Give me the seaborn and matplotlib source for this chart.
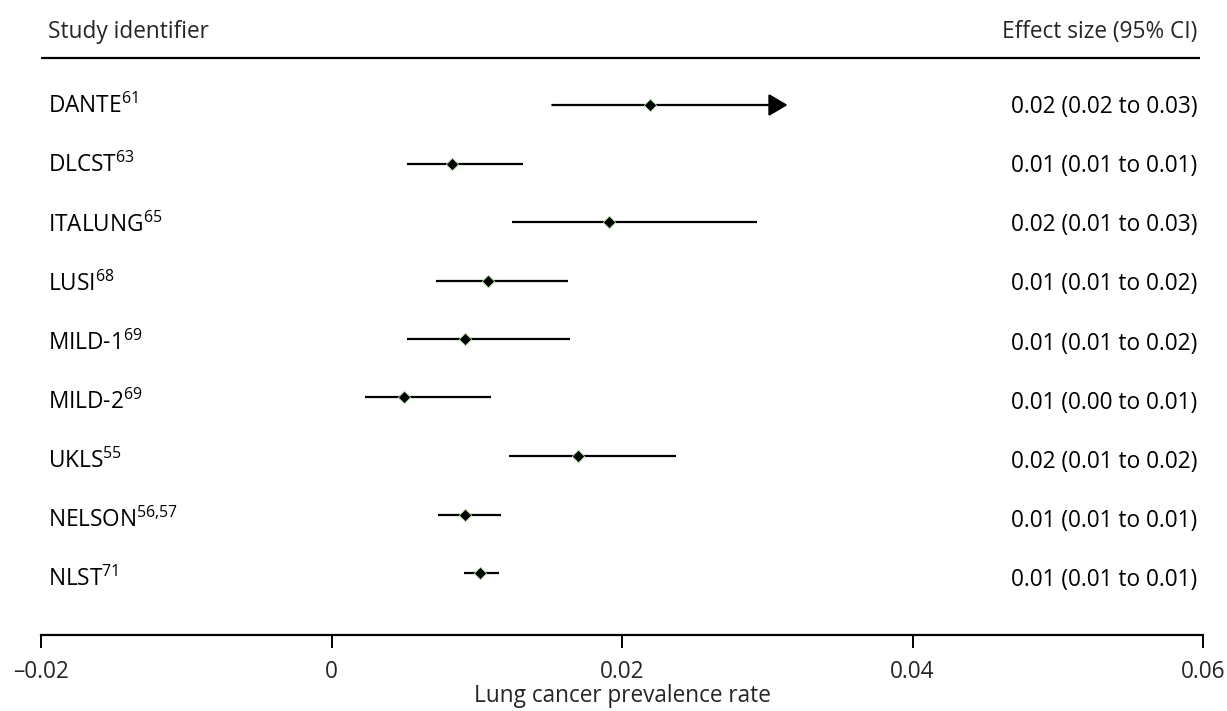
import matplotlib
matplotlib.use("Agg")
import matplotlib.pyplot as plt
import seaborn as sns
import pandas as pd
import numpy as np

studies = ["DANTE", "DLCST", "ITALUNG", "LUSI", "MILD-1", "MILD-2", "UKLS", "NELSON", "NLST"]
refs = ["61", "63", "65", "68", "69", "69", "55", "56{,}57", "71"]
estimate = [0.0219, 0.0083, 0.0191, 0.0108, 0.0092, 0.0050, 0.0170, 0.0092, 0.0102]
ci_low = [0.0152, 0.0052, 0.0124, 0.0072, 0.0052, 0.0023, 0.0122, 0.0073, 0.0091]
ci_high = [0.0314, 0.0132, 0.0293, 0.0163, 0.0164, 0.0110, 0.0237, 0.0117, 0.0115]
truncated = [True, False, False, False, False, False, False, False, False]
effect_text = ["0.02 (0.02 to 0.03)", "0.01 (0.01 to 0.01)", "0.02 (0.01 to 0.03)",
               "0.01 (0.01 to 0.02)", "0.01 (0.01 to 0.02)", "0.01 (0.00 to 0.01)",
               "0.02 (0.01 to 0.02)", "0.01 (0.01 to 0.01)", "0.01 (0.01 to 0.01)"]
xticks = [-0.02, 0, 0.02, 0.04, 0.06]
xticklabels = ["\u20130.02", "0", "0.02", "0.04", "0.06"]
xlabel = "Lung cancer prevalence rate"
header_left = "Study identifier"
header_right = "Effect size (95% CI)"

sns.set_theme(style="white")
plt.rcParams["font.family"] = ["Open Sans", "DejaVu Sans"]
plt.rcParams["mathtext.fontset"] = "custom"
plt.rcParams["mathtext.rm"] = "Open Sans"

df = pd.DataFrame({"study": studies, "est": estimate, "lo": ci_low, "hi": ci_high,
                   "row": np.arange(len(studies))})

W, H = 1227, 711
fig = plt.figure(figsize=(W / 100, H / 100), dpi=100)
left_px, right_px, axis_px = 41, 1203, 635
ax = fig.add_axes([left_px / W, (H - axis_px) / H, (right_px - left_px) / W, axis_px / H])

row0, row_step = 105, 58.5
y_bottom = (axis_px - row0) / row_step
y_top = (0 - row0) / row_step
ax.set_ylim(y_bottom, y_top)
ax.set_xlim(-0.02, 0.06)

def px_to_row(p):
    return (p - row0) / row_step

fs = 16.3
for i, r in df.iterrows():
    if truncated[i]:
        ax.annotate("", xy=(r.hi, r.row), xytext=(r.lo, r.row),
                    arrowprops=dict(arrowstyle="-|>,head_length=1.15,head_width=0.68",
                                    mutation_scale=10, color="black", lw=1.6,
                                    shrinkA=0, shrinkB=0))
    else:
        ax.hlines(r.row, r.lo, r.hi, color="black", lw=1.6)

sns.scatterplot(data=df, x="est", y="row", marker="D", s=40, color="black",
                edgecolor="#a8d89a", linewidth=0.6, ax=ax, zorder=5, legend=False)

text_x = -0.01952
text_right = 0.0596
base0, base_step = 113.3, 59.06
for i, r in df.iterrows():
    yb = px_to_row(base0 + i * base_step)
    ax.text(text_x, yb, f"{studies[i]}$^{{\\mathregular{{{refs[i]}}}}}$",
            ha="left", va="baseline", fontsize=fs, color="black")
    ax.text(text_right, yb, effect_text[i], ha="right", va="baseline",
            fontsize=fs, color="black")

hdr_row = px_to_row(38.3)
line_row = px_to_row(57.5)
ax.text(text_x, hdr_row, header_left, ha="left", va="baseline", fontsize=fs)
ax.text(text_right, hdr_row, header_right, ha="right", va="baseline", fontsize=fs)
ax.hlines(line_row, -0.02, 0.0598, color="black", lw=1.6, clip_on=False)

for s in ["top", "right", "left"]:
    ax.spines[s].set_visible(False)
ax.spines["bottom"].set_color("black")
ax.spines["bottom"].set_linewidth(1.6)
ax.set_yticks([])
ax.set_ylabel("")
ax.set_xticks(xticks)
ax.set_xticklabels(xticklabels, fontsize=fs)
ax.tick_params(axis="x", direction="out", length=9.5, width=1.4, color="black", pad=8.3,
               bottom=True)
ax.set_xlabel(xlabel, fontsize=fs, labelpad=0.5)
ax.patch.set_alpha(0)

fig.savefig("out.png", dpi=100)
